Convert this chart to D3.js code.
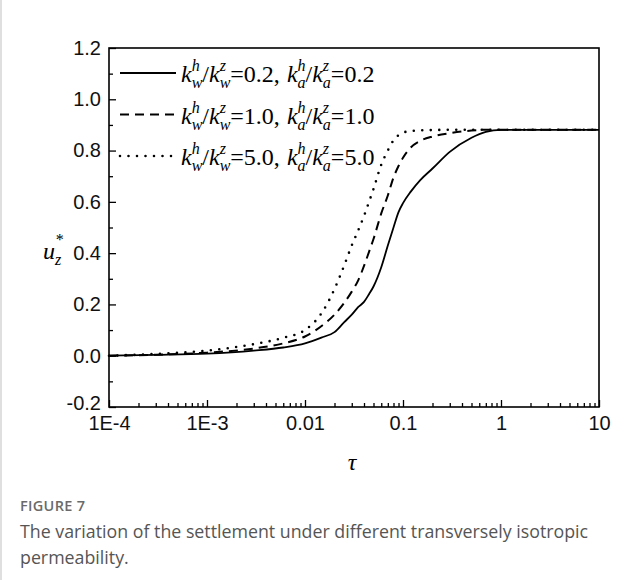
<!DOCTYPE html>
<html>
<head>
<meta charset="utf-8">
<script src="https://cdn.jsdelivr.net/npm/d3@7"></script>
<style>
  html, body { margin: 0; padding: 0; background: #fff; }
  svg { display: block; }
</style>
</head>
<body>
<svg id="chart" width="638" height="580"></svg>
<script>
// Dimensionless time values shared by all three curves
const tau = [1e-4, 3e-4, 1e-3, 3e-3, 6e-3, 0.01, 0.015, 0.02, 0.025, 0.03, 0.035, 0.04, 0.045,
             0.05, 0.06, 0.07, 0.08, 0.09, 0.1, 0.12, 0.15, 0.2, 0.3, 0.5, 0.7, 1, 10];

// Normalised settlement u_z* for each permeability ratio
const settle02 = [0, 0.003, 0.008, 0.02, 0.032, 0.048, 0.072, 0.092, 0.13, 0.16, 0.19, 0.21, 0.24,
                  0.27, 0.345, 0.43, 0.50, 0.56, 0.595, 0.64, 0.685, 0.73, 0.795, 0.85, 0.873, 0.881, 0.881];
const settle10 = [0, 0.004, 0.012, 0.028, 0.048, 0.075, 0.118, 0.16, 0.205, 0.25, 0.295, 0.35, 0.405,
                  0.455, 0.555, 0.625, 0.695, 0.74, 0.772, 0.812, 0.838, 0.855, 0.868, 0.878, 0.881, 0.881, 0.881];
const settle50 = [0, 0.007, 0.02, 0.045, 0.07, 0.10, 0.17, 0.26, 0.35, 0.43, 0.49, 0.545, 0.60,
                  0.65, 0.745, 0.80, 0.84, 0.86, 0.87, 0.876, 0.879, 0.88, 0.881, 0.881, 0.881, 0.881, 0.881];

const ratioLabels = ["0.2", "1.0", "5.0"];
const xTickValues = [1e-4, 1e-3, 0.01, 0.1, 1, 10];
const xTickLabels = ["1E-4", "1E-3", "0.01", "0.1", "1", "10"];
const yTickValues = [-0.2, 0, 0.2, 0.4, 0.6, 0.8, 1.0, 1.2];
const yTickLabels = ["-0.2", "0.0", "0.2", "0.4", "0.6", "0.8", "1.0", "1.2"];

const svg = d3.select("#chart");
const plotLeft = 109, plotRight = 599, plotTop = 48, plotBottom = 407;

const x = d3.scaleLog().domain([1e-4, 10]).range([plotLeft, plotRight]);
const y = d3.scaleLinear().domain([-0.2, 1.2]).range([plotBottom, plotTop]);

// thin page rule on the left edge
svg.append("line").attr("x1", 1).attr("x2", 1).attr("y1", 0).attr("y2", 580)
  .attr("stroke", "#d4d4d4").attr("stroke-width", 1.5);

const sansFont = "'Liberation Sans', Arial, sans-serif";
const serifFont = "'Liberation Serif', 'Times New Roman', serif";

// Axes: ticks point into the plot
const yAxis = d3.axisLeft(y).tickValues(yTickValues)
  .tickFormat((d, i) => yTickLabels[i]).tickSizeInner(-7).tickSizeOuter(0).tickPadding(8);
const yMinor = d3.axisLeft(y).tickValues(d3.range(-0.1, 1.2, 0.2))
  .tickFormat("").tickSizeInner(-4).tickSizeOuter(0);
const xAxis = d3.axisBottom(x).tickValues(xTickValues)
  .tickFormat((d, i) => xTickLabels[i]).tickSizeInner(-7).tickSizeOuter(0).tickPadding(9);
const minorX = [];
for (let e = -4; e < 1; e++) for (let m = 2; m <= 9; m++) minorX.push(m * Math.pow(10, e));
const xMinor = d3.axisBottom(x).tickValues(minorX).tickFormat("").tickSizeInner(-4).tickSizeOuter(0);

function styleAxis(g) {
  g.select(".domain").remove();
  g.selectAll(".tick line").attr("stroke", "#000").attr("stroke-width", 1.3);
  g.selectAll(".tick text").attr("fill", "#111").style("font-family", sansFont).style("font-size", "20px");
}
const yAxisG = svg.append("g").attr("transform", `translate(${plotLeft},0)`).call(yAxis).call(styleAxis);
// lowest y label sits a little above its tick so it clears the x labels
yAxisG.selectAll(".tick text").filter(d => d === -0.2).attr("dy", "0.1em");
svg.append("g").attr("transform", `translate(${plotLeft},0)`).call(yMinor).call(styleAxis);
svg.append("g").attr("transform", `translate(0,${plotBottom})`).call(xAxis).call(styleAxis);
svg.append("g").attr("transform", `translate(0,${plotBottom})`).call(xMinor).call(styleAxis);

// plot frame
svg.append("rect").attr("x", plotLeft).attr("y", plotTop)
  .attr("width", plotRight - plotLeft).attr("height", plotBottom - plotTop)
  .attr("fill", "none").attr("stroke", "#000").attr("stroke-width", 1.6);

const series = [
  { values: settle02, dash: null, width: 1.8, cap: "butt" },
  { values: settle10, dash: "9,6", width: 2, cap: "butt" },
  { values: settle50, dash: "0,8.5", width: 2.6, cap: "round" }
];

const line = d3.line().x(d => x(d[0])).y(d => y(d[1])).curve(d3.curveMonotoneX);
series.forEach(s => {
  svg.append("path")
    .datum(tau.map((t, i) => [t, s.values[i]]))
    .attr("d", line)
    .attr("fill", "none")
    .attr("stroke", "#000")
    .attr("stroke-width", s.width)
    .attr("stroke-linecap", s.cap)
    .attr("stroke-dasharray", s.dash);
});

// Text with stacked super/subscripts, laid out piece by piece
function richText(g, x0, baseline, parts) {
  let cx = x0;
  parts.forEach(p => {
    if (p.stack) {
      let w = 0;
      p.stack.forEach(q => {
        const t = g.append("text").attr("x", cx).attr("y", baseline + q.dy)
          .style("font-family", serifFont).style("font-style", "italic")
          .style("font-size", q.size + "px").text(q.t);
        w = Math.max(w, t.node().getComputedTextLength());
      });
      cx += w;
    } else {
      const t = g.append("text").attr("x", cx).attr("y", baseline)
        .style("font-family", serifFont).style("font-style", p.italic ? "italic" : "normal")
        .style("font-size", (p.size || 24) + "px").text(p.t);
      cx += t.node().getComputedTextLength() + (p.gap || 0);
    }
  });
}
function kRatio(sub) {
  return [
    { t: "k", italic: true },
    { stack: [{ t: "h", dy: -11, size: 16 }, { t: sub, dy: 6, size: 16 }] },
    { t: "/" },
    { t: "k", italic: true },
    { stack: [{ t: "z", dy: -11, size: 16 }, { t: sub, dy: 6, size: 16 }] }
  ];
}

// Legend entries: k^h_w/k^z_w=r, k^h_a/k^z_a=r
const legend = svg.append("g");
series.forEach((s, i) => {
  const ly = 73 + i * 41.5;
  legend.append("line").attr("x1", 120).attr("x2", 176).attr("y1", ly).attr("y2", ly)
    .attr("stroke", "#000").attr("stroke-width", s.width)
    .attr("stroke-linecap", s.cap).attr("stroke-dasharray", s.dash);
  const parts = [].concat(kRatio("w"), [{ t: "=" + ratioLabels[i] + ",", gap: 7 }],
                          kRatio("a"), [{ t: "=" + ratioLabels[i] }]);
  richText(legend, 181, ly + 9, parts);
});

// Axis titles
const yl = svg.append("g");
richText(yl, 43, 259, [
  { t: "u", italic: true },
  { stack: [{ t: "*", dy: -14, size: 16 }, { t: "z", dy: 6, size: 16 }] }
]);
svg.append("text").attr("x", 352).attr("y", 470).attr("text-anchor", "middle")
  .style("font-family", serifFont).style("font-style", "italic").style("font-size", "24px").text("τ");

// Caption
svg.append("text").attr("x", 20).attr("y", 511)
  .style("font-family", "'Open Sans', sans-serif").style("font-size", "14.5px").style("font-weight", 600)
  .attr("fill", "#6a6a6a").style("letter-spacing", "0.3px").text("FIGURE 7");
const cap = ["The variation of the settlement under different transversely isotropic", "permeability."];
cap.forEach((c, i) => {
  svg.append("text").attr("x", 20).attr("y", 538 + i * 25.5)
    .style("font-family", "'Open Sans', sans-serif").style("font-size", "17.8px")
    .attr("fill", "#555").text(c);
});
</script>
</body>
</html>
